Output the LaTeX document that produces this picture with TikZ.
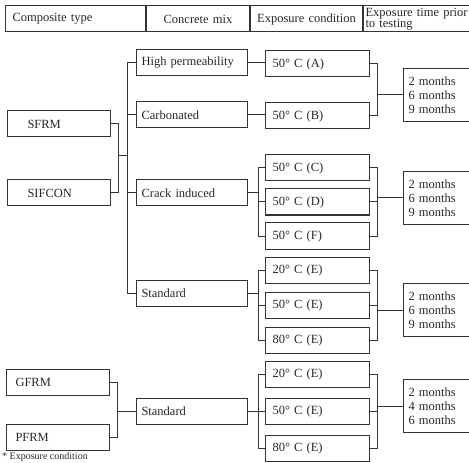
\documentclass[tikz,border=0pt]{standalone}
\usepackage{fontspec}
\setmainfont{Liberation Serif}
\usetikzlibrary{positioning}

\begin{document}
\begin{tikzpicture}[
  x=1bp, y=-1bp,
  every node/.style={text=black!85},
  box/.style={draw=black!80,line width=1bp,minimum height=26bp,inner ysep=0pt,anchor=west,align=left,font=\fontsize{12.5bp}{13bp}\selectfont},
  head/.style={box},
  comp/.style={box,inner xsep=20bp,text width=63bp},
  mix/.style={box,inner xsep=5bp,text width=101bp},
  cond/.style={box,inner xsep=7bp,text width=90bp},
  period/.style={box,inner xsep=5bp,text width=67bp,minimum height=53bp,font=\fontsize{12.5bp}{14bp}\selectfont},
  link/.style={draw=black!80,line width=1bp}
]
\useasboundingbox (0,0) rectangle (469,463);

\node[head,inner xsep=7bp,text width=126bp] (hcomp) at (5,19) {Composite type};
\node[head,inner xsep=0pt,text width=103bp,align=center,right=0pt of hcomp] (hmix) {Concrete mix};
\node[head,inner xsep=0pt,text width=112bp,align=center,right=0pt of hmix] (hcond) {Exposure condition};
\node[head,inner xsep=2bp,text width=116bp,right=0pt of hcond,font=\fontsize{12.5bp}{11bp}\selectfont] (htime) {Exposure time prior\\to testing};

\node[comp] (sfrm) at (7,124) {SFRM};
\node[comp] (sifcon) at (7,193) {SIFCON};
\node[comp,inner xsep=9bp,text width=85bp] (gfrm) at (6,382) {GFRM};
\node[comp,inner xsep=9bp,text width=85bp] (pfrm) at (6,437) {PFRM};

\node[mix] (hiperm) at (136,63) {High permeability};
\node[mix] (carb) at (136,115) {Carbonated};
\node[mix] (crack) at (136,193) {Crack induced};
\node[mix] (std1) at (136,293) {Standard};
\node[mix] (std2) at (136,411) {Standard};

\node[cond] (ca) at (265,64) {50° C (A)};
\node[cond] (cb) at (265,116) {50° C (B)};
\node[cond] (cc) at (265,168) {50° C (C)};
\node[cond] (cd) at (265,202) {50° C (D)};
\node[cond] (cf) at (265,236) {50° C (F)};
\node[cond] (ce20) at (265,270) {20° C (E)};
\node[cond] (ce50) at (265,305) {50° C (E)};
\node[cond] (ce80) at (265,340) {80° C (E)};
\node[cond] (cg20) at (265,374) {20° C (E)};
\node[cond] (cg50) at (265,411) {50° C (E)};
\node[cond] (cg80) at (265,448) {80° C (E)};

\node[period] (t1) at (403,95) {2 months\\6 months\\9 months};
\node[period] (t2) at (403,198) {2 months\\6 months\\9 months};
\node[period] (t3) at (403,310) {2 months\\6 months\\9 months};
\node[period] (t4) at (403,406) {2 months\\4 months\\6 months};

\node[anchor=south west,inner sep=0pt,font=\fontsize{10bp}{11bp}\selectfont] (note) at (2,462) {* Exposure condition};

% bracket columns
\coordinate (xc) at (118,0);
\coordinate (xg) at (117,0);
\coordinate (xs) at (127,0);
\coordinate (xl) at (258,0);
\coordinate (xr) at (377,0);
\coordinate (jc) at (118,156);

\draw[link] (sfrm.east) -- (sfrm.east -| xc) -- (sifcon.east -| xc) -- (sifcon.east);
\draw[link] (jc) -- (jc -| xs);
\draw[link] (hiperm.west -| xs) -- (std1.west -| xs);
\foreach \m in {hiperm,carb,crack,std1}
  \draw[link] (\m.west) -- (\m.west -| xs);

\draw[link] (gfrm.east) -- (gfrm.east -| xg) -- (pfrm.east -| xg) -- (pfrm.east);
\draw[link] (std2.west) -- (std2.west -| xg);

\draw[link] (hiperm.east) -- (hiperm.east -| ca.west);
\draw[link] (carb.east) -- (carb.east -| cb.west);
\foreach \m/\a/\b in {crack/cc/cf,std1/ce20/ce80,std2/cg20/cg80} {
  \draw[link] (\m.east) -- (\m.east -| xl);
  \draw[link] (\a.west -| xl) -- (\b.west -| xl);
}
\foreach \c in {cc,cd,cf,ce20,ce50,ce80,cg20,cg50,cg80}
  \draw[link] (\c.west) -- (\c.west -| xl);

\foreach \a/\b/\t in {ca/cb/t1,cc/cf/t2,ce20/ce80/t3,cg20/cg80/t4} {
  \draw[link] (\a.east) -- (\a.east -| xr) -- (\b.east -| xr) -- (\b.east);
  \draw[link] (\t.west) -- (\t.west -| xr);
}
\foreach \c in {cd,ce50,cg50}
  \draw[link] (\c.east) -- (\c.east -| xr);
\end{tikzpicture}
\end{document}
